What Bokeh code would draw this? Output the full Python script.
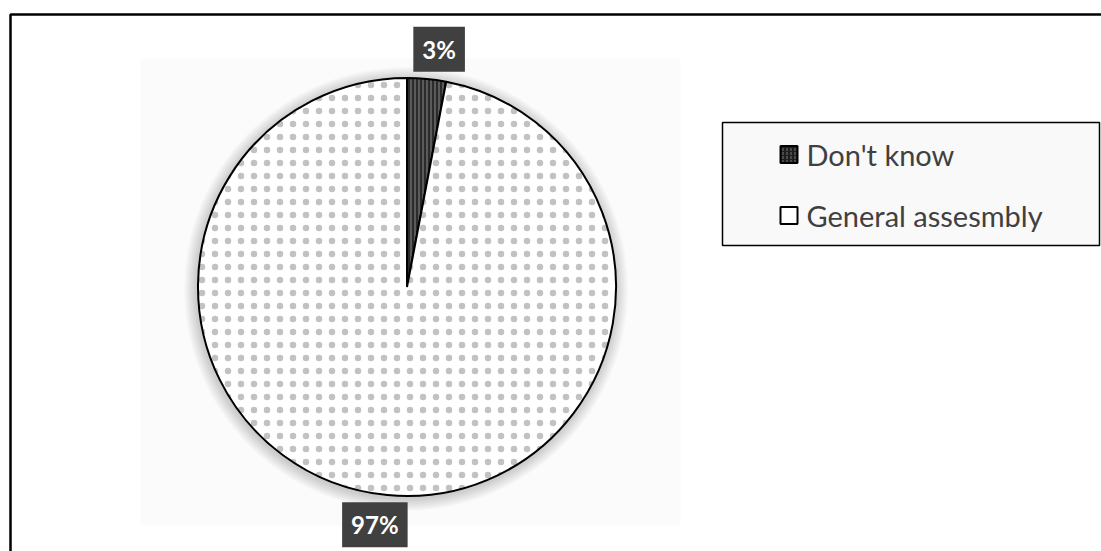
import math
from bokeh.plotting import figure
from bokeh.models import Range1d, BoxAnnotation, ColumnDataSource
from bokeh.core.properties import value
from bokeh.embed import file_html
from bokeh.resources import INLINE

# ---- data ----
categories = ["Don't know", "General assesmbly"]
shares = [3, 97]
labels = ["3%", "97%"]

# ---- layout (pixel-like data units) ----
W, H = 1101, 551
cx, cy, R = 406.5, 264.5, 209.0
label_r = 240.0
label_turn = -0.04  # small clockwise nudge of label placement

p = figure(width=W, height=H, x_range=Range1d(0, W), y_range=Range1d(0, H),
           output_backend="svg", toolbar_location=None, min_border=0)
p.axis.visible = False
p.grid.visible = False
p.outline_line_color = None
p.background_fill_color = "white"
p.border_fill_color = "white"

# faint background panel (underlay)
p.add_layout(BoxAnnotation(left=140, right=680, top=493, bottom=26, level="underlay",
                           fill_color="#f5f5f5", fill_alpha=0.4, line_color=None))
# soft shadow around pie
for k in range(1, 9):
    p.circle(x=[cx - 1], y=[cy - 2], radius=R + k * 1.6, fill_color="#000000",
             fill_alpha=0.025, line_color=None)

# wedges from data
total = float(sum(shares))
starts, ends, mids = [], [], []
a = math.pi / 2
for s in shares:
    span = 2 * math.pi * s / total
    starts.append(a)
    ends.append(a - span)
    mids.append(a - span / 2)
    a -= span

fills = ["#2b2b2b", "#ffffff"]
hatches = ["|", "."]
hcolors = ["#6a6a6a", "#c2c2c2"]
hscales = [4, 13]
hweights = [1.5, 0.8]
for i in range(len(categories)):
    p.wedge(x=cx, y=cy, radius=R, start_angle=starts[i], end_angle=ends[i],
            direction="clock", fill_color=fills[i], line_color="black", line_width=2,
            hatch_pattern=hatches[i], hatch_color=hcolors[i], hatch_scale=hscales[i],
            hatch_weight=hweights[i])

# data labels
lx = [cx + label_r * math.cos(m + label_turn) for m in mids]
ly = [cy + label_r * math.sin(m + label_turn) for m in mids]
lsrc = ColumnDataSource(dict(x=lx, y=ly, t=labels))
p.text(x="x", y="y", text="t", source=lsrc, text_align="center", text_baseline="middle",
       text_color="white", text_font=value("Lato"), text_font_style="bold",
       text_font_size="24px", background_fill_color="#404040", padding=(9, 8))

# legend (manual)
p.rect(x=910.5, y=367.5, width=377, height=123, fill_color="#f9f9f9",
       line_color="black", line_width=1.5)
leg_y = [397, 336]
leg_fill = ["#1e1e1e", "#ffffff"]
leg_hatch = [":", " "]
for i, c in enumerate(categories):
    p.rect(x=788.5, y=leg_y[i], width=17, height=17, fill_color=leg_fill[i],
           line_color="black", line_width=2, hatch_pattern=leg_hatch[i],
           hatch_color="#777777", hatch_scale=4)
lgsrc = ColumnDataSource(dict(x=[806, 806], y=leg_y, t=categories))
p.text(x="x", y="y", text="t", source=lgsrc, text_align="left", text_baseline="middle",
       text_color="#404040", text_font=value("Lato"), text_font_size="29px")

# outer chart border (top and left visible; others beyond page)
p.add_layout(BoxAnnotation(left=10, right=W + 50, top=537, bottom=-50,
                           fill_color=None, fill_alpha=0, line_color="black",
                           line_alpha=1, line_width=2.5))

open("out.html", "w").write(file_html(p, INLINE))
